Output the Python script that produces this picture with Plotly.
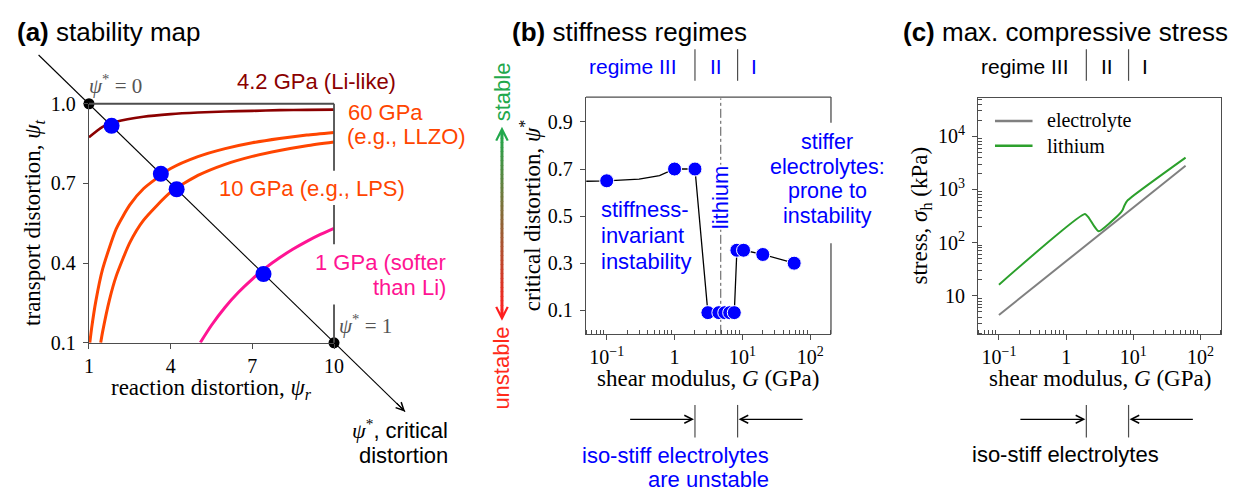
import math
import plotly.graph_objects as go

W, H = 1251, 502
SANS = "Liberation Sans, Arial, sans-serif"
SERIF = "Liberation Serif, Times New Roman, serif"
SPINE = "#4d4d4d"
BLUE = "#0000ff"
DARKRED = "#8b0000"
ORANGE = "#ff4500"
PINK = "#ff1493"
GREEN = "#2ca02c"
GREY = "#808080"

# ---------------- data ----------------
# (a) stability map: transport distortion psi_t vs reaction distortion psi_r
PSI_R_LI = [1, 1.5, 2, 3, 4, 5, 6, 7, 8, 9, 10]
PSI_T_LI = [0.874, 0.913, 0.932, 0.951, 0.961, 0.967, 0.971, 0.973, 0.976, 0.977, 0.978]
PSI_R_60 = [1.03, 1.1, 1.25, 1.5, 2, 2.5, 3, 4, 5, 6, 7, 8, 9, 10]
PSI_T_60 = [0.100, 0.157, 0.256, 0.377, 0.529, 0.619, 0.680, 0.756, 0.801, 0.831, 0.853, 0.869, 0.882, 0.892]
PSI_R_10 = [1.43, 1.5, 1.75, 2, 2.5, 3, 4, 5, 6, 7, 8, 9, 10]
PSI_T_10 = [0.100, 0.141, 0.261, 0.351, 0.477, 0.561, 0.667, 0.730, 0.772, 0.802, 0.824, 0.842, 0.856]
PSI_R_1 = [5.09, 5.5, 6, 6.5, 7, 7.5, 8, 8.5, 9, 9.5, 10]
PSI_T_1 = [0.101, 0.166, 0.234, 0.291, 0.340, 0.383, 0.420, 0.453, 0.482, 0.508, 0.531]
CRIT_R = [1.83, 3.64, 4.22, 7.41]
CRIT_T = [0.917, 0.736, 0.678, 0.359]
END_R = [1, 10]          # psi* = 0 and psi* = 1
END_T = [1.0, 0.1]
A_XTICKS = [1, 4, 7, 10]
A_XTEXT = ["1", "4", "7", "10"]
A_YTICKS = [0.1, 0.4, 0.7, 1.0]
A_YTEXT = ["0.1", "0.4", "0.7", "1.0"]

# (b) critical distortion vs shear modulus
G_B = [0.1, 1, 2, 3.1, 4.5, 5.5, 6.5, 7.6, 8.3, 10.4, 20, 58]
PSI_B = [0.65, 0.70, 0.70, 0.09, 0.09, 0.09, 0.09, 0.09, 0.355, 0.355, 0.337, 0.30]
LINE_G_B = [0.05, 0.1, 0.3, 0.6, 1, 2, 3.1, 4.5, 5.5, 6.5, 7.6, 8.3, 10.4, 20, 58]
LINE_PSI_B = [0.648, 0.65, 0.657, 0.672, 0.70, 0.70, 0.09, 0.09, 0.09, 0.09, 0.09, 0.355, 0.355, 0.337, 0.30]
LI_G = 4.8
REGIME_G = [2.0, 8.5]
B_YTICKS = [0.1, 0.3, 0.5, 0.7, 0.9]
LOG_XTICKS = [0.1, 1, 10, 100]
LOG_XTEXT = ["10<sup>\u22121</sup>", "1", "10<sup>1</sup>", "10<sup>2</sup>"]

# (c) max compressive stress (kPa)
G_EL = [0.1, 60]
SIG_EL = [4.4, 2800]
G_LI = [0.1, 1.9, 2.18, 2.58, 3.06, 6.22, 6.89, 7.38, 8.16, 60]
SIG_LI = [16.3, 346, 293, 210, 164, 346, 408, 501, 616, 3960]
C_YTICKS = [10, 100, 1000, 10000]
C_YTEXT = ["10", "10<sup>2</sup>", "10<sup>3</sup>", "10<sup>4</sup>"]

# ---------------- layout geometry (pixels) ----------------
A_BOX = (85, 333, 97, 347)
B_BOX = (588, 836, 90, 338)
C_BOX = (985, 1231, 91, 338)
B_XR = [-1.306, 2.306]
C_XR = [-1.309, 2.309]


def PX(x):
    return x / W


def PY(y):
    return 1 - y / H


def dom_x(b):
    return [b[0] / W, b[1] / W]


def dom_y(b):
    return [1 - b[3] / H, 1 - b[2] / H]


def g_to_px(g, box, rng):
    return box[0] + (math.log10(g) - rng[0]) / (rng[1] - rng[0]) * (box[1] - box[0])


annotations = []
shapes = []


def txt(s, x, y, size=22, color="black", family=SANS, xanchor="center",
        yanchor="middle", align="center", angle=0, bg=None):
    d = dict(text=s, x=PX(x), y=PY(y), xref="paper", yref="paper", showarrow=False,
             font=dict(family=family, size=size, color=color), xanchor=xanchor,
             yanchor=yanchor, align=align, textangle=angle, borderpad=0)
    if bg:
        d["bgcolor"] = bg
    annotations.append(d)


def lines(parts, x, y0, dy, **kw):
    for i, s in enumerate(parts):
        txt(s, x, y0 + i * dy, **kw)


def arrow(hx, hy, tx, ty, color="black", width=1.0, size=1.2, head=5):
    annotations.append(dict(text="", x=PX(hx), y=PY(hy), xref="paper", yref="paper",
                            ax=tx - hx, ay=ty - hy, axref="pixel", ayref="pixel",
                            showarrow=True, arrowhead=head, arrowsize=size,
                            arrowwidth=width, arrowcolor=color))


def seg(x0, y0, x1, y1, color=SPINE, width=1.3, dash=None, layer="above"):
    line = dict(color=color, width=width)
    if dash:
        line["dash"] = dash
    shapes.append(dict(type="line", xref="paper", yref="paper", x0=PX(x0), y0=PY(y0),
                       x1=PX(x1), y1=PY(y1), line=line, layer=layer))


fig = go.Figure()

# ---------- panel (a) ----------
for xs, ys, c, w in [(PSI_R_LI, PSI_T_LI, DARKRED, 2.6), (PSI_R_60, PSI_T_60, ORANGE, 3),
                     (PSI_R_10, PSI_T_10, ORANGE, 3), (PSI_R_1, PSI_T_1, PINK, 3)]:
    fig.add_trace(go.Scatter(x=xs, y=ys, mode="lines", xaxis="x", yaxis="y",
                             line=dict(color=c, width=w, shape="spline", smoothing=0.6),
                             hoverinfo="skip"))
fig.add_trace(go.Scatter(x=END_R, y=END_T, mode="markers", xaxis="x", yaxis="y",
                         marker=dict(color="black", size=11), cliponaxis=False))
fig.add_trace(go.Scatter(x=CRIT_R, y=CRIT_T, mode="markers", xaxis="x", yaxis="y",
                         marker=dict(color=BLUE, size=16), cliponaxis=False))

# diagonal psi* axis
seg(34, 46, 405, 419, color="black", width=1.1, layer="below")
arrow(405, 419, 395, 409, color="black", width=1.1, size=1.4)
# top & broken right spines
seg(A_BOX[0], A_BOX[2], A_BOX[1], A_BOX[2], width=1.8)
for y0, y1 in [(97, 167), (203, 244), (307, 347)]:
    seg(A_BOX[1], y0, A_BOX[1], y1, width=1.8)

txt("<b>(a)</b> stability map", 11, 22, size=26, xanchor="left")
txt("<i>ψ</i><sup>*</sup> = 0", 84, 77, size=21, family=SERIF, color="#555", xanchor="left")
txt("4.2 GPa (Li-like)", 234, 74, color=DARKRED, xanchor="left")
txt("60 GPa", 346, 106, color=ORANGE, xanchor="left")
txt("(e.g., LLZO)", 345, 131, color=ORANGE, xanchor="left")
txt("10 GPa (e.g., LPS)", 216, 186, color=ORANGE, xanchor="left")
lines(["1 GPa (softer", "than Li)"], 447, 263, 26, color=PINK, xanchor="right")
txt("<span style='font-family:Liberation Serif'><i>ψ</i><sup>*</sup></span>, critical",
    449, 437, xanchor="right")
txt("distortion", 449, 465, xanchor="right")
txt("<i>ψ</i><sup>*</sup> = 1", 337, 328, size=21, family=SERIF, color="#555", xanchor="left")
txt("transport distortion, <i>ψ<sub>t</sub></i>", 30, 222, size=23, family=SERIF, angle=-90)
txt("reaction distortion, <i>ψ<sub>r</sub></i>", 209, 395, size=23, family=SERIF)

# ---------- panel (b) ----------
fig.add_trace(go.Scatter(x=[LI_G, LI_G], y=[0, 1.0], mode="lines", xaxis="x2", yaxis="y2",
                         line=dict(color="#555", width=1, dash="dashdot"), hoverinfo="skip"))
fig.add_trace(go.Scatter(x=LINE_G_B, y=LINE_PSI_B, mode="lines", xaxis="x2", yaxis="y2",
                         line=dict(color="black", width=1.3), hoverinfo="skip"))
fig.add_trace(go.Scatter(x=G_B, y=PSI_B, mode="markers", xaxis="x2", yaxis="y2",
                         marker=dict(color=BLUE, size=14, line=dict(color="white", width=1))))

seg(B_BOX[0], B_BOX[2], B_BOX[1], B_BOX[2])
for y0, y1 in [(90, 117), (243, 338)]:
    seg(B_BOX[1], y0, B_BOX[1], y1)

txt("<b>(b)</b> stiffness regimes", 512, 22, size=26, xanchor="left")
bx = [g_to_px(g, B_BOX, B_XR) for g in REGIME_G]
txt("regime III", 636, 58, size=21, color=BLUE)
txt("II", (bx[0] + bx[1]) / 2, 58, size=21, color=BLUE)
txt("I", bx[1] + 17, 58, size=21, color=BLUE)
for xb in bx:
    seg(xb, 40, xb, 73, width=1.2)
    seg(xb, 412, xb, 446, width=1.2)
arrow(bx[0] - 1, 427, 632, 427, width=1.3, size=1.2)
arrow(bx[1] + 1, 427, 808, 427, width=1.3, size=1.2)
lines(["iso-stiff electrolytes", "are unstable"], 774, 465, 25, color=BLUE, xanchor="right")

# gradient stable/unstable arrow
c_top = (34, 168, 76)
c_bot = (255, 30, 30)
N = 40
y_a, y_b = 128, 317
for i in range(N):
    t = (i + 0.5) / N
    col = "rgb(%d,%d,%d)" % tuple(round(c_top[k] + (c_bot[k] - c_top[k]) * t) for k in range(3))
    seg(503, y_a + (y_b - y_a) * i / N, 503, y_a + (y_b - y_a) * (i + 1) / N + 0.6, color=col, width=3)
arrow(503, 121, 503, 131, color="rgb(34,168,76)", width=3, size=0.75)
arrow(503, 324, 503, 314, color="rgb(255,30,30)", width=3, size=0.75)
txt("stable", 503, 84, size=22, color="#22a84c", angle=-90)
txt("unstable", 503, 373, size=22, color="#ff2a1a", angle=-90)

txt("lithium", g_to_px(LI_G, B_BOX, B_XR), 195, size=22, color=BLUE, angle=-90, bg="white")
lines(["stiffness-", "invariant", "instability"], 602, 208, 27, size=22, color=BLUE, xanchor="left")
lines(["stiffer", "electrolytes:", "prone to", "instability"], 832, 137, 25.7, size=21.5, color=BLUE)
txt("critical distortion, <i>ψ</i><sup>*</sup>", 532, 214, size=23, family=SERIF, angle=-90)
txt("shear modulus, <i>G</i> (GPa)", 712, 384, size=23, family=SERIF)

# ---------- panel (c) ----------
fig.add_trace(go.Scatter(x=G_EL, y=SIG_EL, mode="lines", xaxis="x3", yaxis="y3",
                         line=dict(color=GREY, width=2), name="electrolyte"))
fig.add_trace(go.Scatter(x=G_LI, y=SIG_LI, mode="lines", xaxis="x3", yaxis="y3",
                         line=dict(color=GREEN, width=2, shape="spline", smoothing=0.5), name="lithium"))

txt("<b>(c)</b> max. compressive stress", 908, 22, size=26, xanchor="left")
cx = [g_to_px(g, C_BOX, C_XR) for g in REGIME_G]
txt("regime III", 1032, 58, size=21)
txt("II", (cx[0] + cx[1]) / 2, 58, size=21)
txt("I", cx[1] + 17, 58, size=21)
for xb in cx:
    seg(xb, 40, xb, 73, width=1.2)
    seg(xb, 412, xb, 446, width=1.2)
arrow(cx[0] - 1, 427, 1027, 427, width=1.3, size=1.2)
arrow(cx[1] + 1, 427, 1203, 427, width=1.3, size=1.2)
txt("iso-stiff electrolytes", 1073, 464)

# legend (drawn)
seg(1002, 115, 1040, 115, color=GREY, width=2.5)
seg(1002, 141, 1040, 141, color=GREEN, width=2.5)
txt("electrolyte", 1054, 115, size=20, family=SERIF, xanchor="left")
txt("lithium", 1054, 141, size=20, family=SERIF, xanchor="left")
txt("stress, <i>σ</i><sub>h</sub> (kPa)", 927, 214, size=23, family=SERIF, angle=-90)
txt("shear modulus, <i>G</i> (GPa)", 1108, 384, size=23, family=SERIF)

# ---------- axes ----------
common = dict(showline=True, linecolor=SPINE, linewidth=1.3, ticks="outside", ticklen=5,
              tickcolor=SPINE, tickwidth=1.2, showgrid=False, zeroline=False,
              tickfont=dict(family=SERIF, size=20, color="black"), fixedrange=True)

x_minor = [m * 10 ** e for e in range(-2, 3) for m in range(2, 10)]
y_minor = [m * 10 ** e for e in range(0, 5) for m in range(2, 10)]
minor_x = dict(ticks="inside", ticklen=4, tickcolor=SPINE, tickmode="array", tickvals=x_minor, showgrid=False)
minor_y = dict(ticks="inside", ticklen=4, tickcolor=SPINE, tickmode="array", tickvals=y_minor, showgrid=False)

fig.update_layout(
    width=W, height=H, margin=dict(l=0, r=0, t=0, b=0),
    paper_bgcolor="white", plot_bgcolor="rgba(0,0,0,0)", showlegend=False,
    xaxis=dict(domain=dom_x(A_BOX), range=[1, 10], tickmode="array", tickvals=A_XTICKS,
               ticktext=A_XTEXT, anchor="y", **common),
    yaxis=dict(domain=dom_y(A_BOX), range=[0.1, 1.0], tickmode="array", tickvals=A_YTICKS,
               ticktext=A_YTEXT, anchor="x", ticklabelstandoff=3, **common),
    xaxis2=dict(domain=dom_x(B_BOX), type="log", range=B_XR, tickmode="array",
                tickvals=LOG_XTICKS, ticktext=LOG_XTEXT, anchor="y2", minor=minor_x, **common),
    yaxis2=dict(domain=dom_y(B_BOX), range=[-0.0015, 1.0056], tickmode="array",
                tickvals=B_YTICKS, anchor="x2", ticklabelstandoff=3, **common),
    xaxis3=dict(domain=dom_x(C_BOX), type="log", range=C_XR, tickmode="array",
                tickvals=LOG_XTICKS, ticktext=LOG_XTEXT, anchor="y3", minor=minor_x,
                mirror=True, **common),
    yaxis3=dict(domain=dom_y(C_BOX), type="log", range=[0.2815, 4.7185], tickmode="array",
                tickvals=C_YTICKS, ticktext=C_YTEXT, anchor="x3", minor=minor_y,
                ticklabelstandoff=3, mirror=True, **common),
    annotations=annotations, shapes=shapes,
)

fig.write_html("out.html")
